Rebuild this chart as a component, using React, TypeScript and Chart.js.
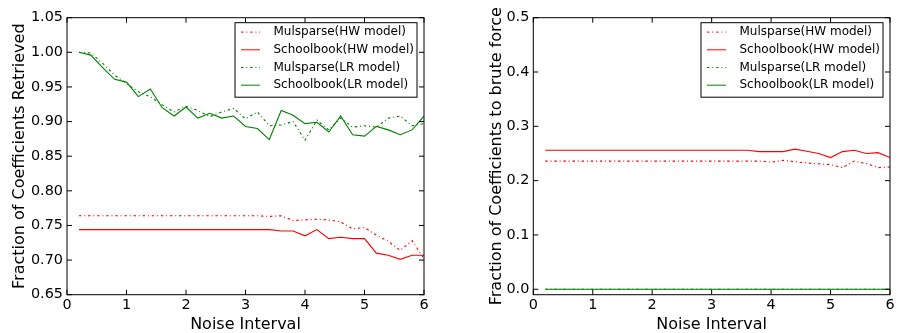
import React, { useEffect, useRef } from 'react';
import { Chart, registerables } from 'chart.js';

Chart.register(...registerables);

const FONT = "'DejaVu Sans', 'Liberation Sans', sans-serif";

const NOISE = [0.2, 0.4, 0.6, 0.8, 1.0, 1.2, 1.4, 1.6, 1.8, 2.0, 2.2, 2.4, 2.6, 2.8, 3.0, 3.2, 3.4, 3.6, 3.8, 4.0, 4.2, 4.4, 4.6, 4.8, 5.0, 5.2, 5.4, 5.6, 5.8, 6.0];

const SERIES_LABELS = ['Mulsparse(HW model)', 'Schoolbook(HW model)', 'Mulsparse(LR model)', 'Schoolbook(LR model)'];
const SERIES_COLORS = ['#ff0000', '#ff0000', '#008000', '#008000'];
const SERIES_DASHED = [true, false, true, false];

// Left panel: Fraction of Coefficients Retrieved
const LEFT_MULSPARSE_HW = [0.764, 0.764, 0.764, 0.764, 0.764, 0.764, 0.764, 0.764, 0.764, 0.764, 0.764, 0.764, 0.764, 0.764, 0.764, 0.764, 0.763, 0.764, 0.757, 0.758, 0.759, 0.758, 0.755, 0.745, 0.747, 0.736, 0.727, 0.714, 0.728, 0.702];
const LEFT_SCHOOLBOOK_HW = [0.744, 0.744, 0.744, 0.744, 0.744, 0.744, 0.744, 0.744, 0.744, 0.744, 0.744, 0.744, 0.744, 0.744, 0.744, 0.744, 0.744, 0.742, 0.742, 0.735, 0.744, 0.731, 0.733, 0.731, 0.731, 0.710, 0.707, 0.701, 0.707, 0.707];
const LEFT_MULSPARSE_LR = [1.000, 0.999, 0.984, 0.967, 0.955, 0.943, 0.936, 0.924, 0.914, 0.922, 0.916, 0.907, 0.914, 0.919, 0.904, 0.914, 0.894, 0.895, 0.900, 0.873, 0.902, 0.888, 0.905, 0.892, 0.894, 0.892, 0.905, 0.908, 0.894, 0.897];
const LEFT_SCHOOLBOOK_LR = [1.000, 0.996, 0.978, 0.961, 0.957, 0.936, 0.947, 0.920, 0.908, 0.921, 0.905, 0.912, 0.905, 0.908, 0.893, 0.890, 0.874, 0.916, 0.909, 0.897, 0.899, 0.885, 0.908, 0.881, 0.879, 0.893, 0.888, 0.881, 0.888, 0.908];

// Right panel: Fraction of Coefficients to brute force
const RIGHT_MULSPARSE_HW = [0.236, 0.236, 0.236, 0.236, 0.236, 0.236, 0.236, 0.236, 0.236, 0.236, 0.236, 0.236, 0.236, 0.236, 0.236, 0.236, 0.236, 0.236, 0.236, 0.234, 0.2375, 0.235, 0.2325, 0.231, 0.2295, 0.224, 0.236, 0.2315, 0.224, 0.225];
const RIGHT_SCHOOLBOOK_HW = [0.256, 0.256, 0.256, 0.256, 0.256, 0.256, 0.256, 0.256, 0.256, 0.256, 0.256, 0.256, 0.256, 0.256, 0.256, 0.256, 0.256, 0.256, 0.2535, 0.2535, 0.2535, 0.258, 0.254, 0.250, 0.2425, 0.2535, 0.256, 0.250, 0.2515, 0.2425];
const RIGHT_MULSPARSE_LR = [0, 0, 0, 0, 0, 0, 0, 0, 0, 0, 0, 0, 0, 0, 0, 0, 0, 0, 0, 0, 0, 0, 0, 0, 0, 0, 0, 0, 0, 0];
const RIGHT_SCHOOLBOOK_LR = [0, 0, 0, 0, 0, 0, 0, 0, 0, 0, 0, 0, 0, 0, 0, 0, 0, 0, 0, 0, 0, 0, 0, 0, 0, 0, 0, 0, 0, 0];

const X_TICKS = [0, 1, 2, 3, 4, 5, 6];
const LEFT_Y_TICKS = [0.65, 0.70, 0.75, 0.80, 0.85, 0.90, 0.95, 1.00, 1.05];
const RIGHT_Y_TICKS = [0.0, 0.1, 0.2, 0.3, 0.4, 0.5];

const DASH = [2.5, 2.8, 1, 2.8];
const TICK_LEN = 5;

const frameLegendPlugin = {
  id: 'frameLegend',
  afterDatasetsDraw(chart: any) {
    const { ctx, chartArea: a } = chart;
    const xs = chart.scales.x;
    const ys = chart.scales.y;
    ctx.save();
    ctx.strokeStyle = '#000';
    ctx.lineWidth = 1;
    ctx.setLineDash([]);
    ctx.beginPath();
    for (const t of xs.ticks) {
      const p = xs.getPixelForValue(t.value);
      ctx.moveTo(p, a.bottom);
      ctx.lineTo(p, a.bottom - TICK_LEN);
      ctx.moveTo(p, a.top);
      ctx.lineTo(p, a.top + TICK_LEN);
    }
    for (const t of ys.ticks) {
      const p = ys.getPixelForValue(t.value);
      ctx.moveTo(a.left, p);
      ctx.lineTo(a.left + TICK_LEN, p);
      ctx.moveTo(a.right, p);
      ctx.lineTo(a.right - TICK_LEN, p);
    }
    ctx.stroke();
    ctx.strokeRect(a.left, a.top, a.right - a.left, a.bottom - a.top);

    // legend box
    const bw = 182;
    const bh = 74.5;
    const bx = a.right - 7 - bw;
    const by = a.top + 5;
    ctx.fillStyle = '#fff';
    ctx.fillRect(bx, by, bw, bh);
    ctx.strokeStyle = '#000';
    ctx.strokeRect(bx, by, bw, bh);
    ctx.font = `12px ${FONT}`;
    ctx.textBaseline = 'middle';
    ctx.textAlign = 'left';
    chart.data.datasets.forEach((ds: any, i: number) => {
      const cy = by + 9.4 + i * 17.7;
      ctx.strokeStyle = ds.borderColor;
      ctx.lineWidth = 1;
      ctx.setLineDash(ds.borderDash || []);
      ctx.beginPath();
      ctx.moveTo(bx + 6, cy);
      ctx.lineTo(bx + 25, cy);
      ctx.stroke();
      ctx.setLineDash([]);
      ctx.fillStyle = '#000';
      ctx.fillText(ds.label, bx + 38.5, cy);
    });
    ctx.restore();
  },
};

type PanelSpec = {
  series: number[][];
  yMin: number;
  yMax: number;
  yTicks: number[];
  yDecimals: number;
  yTitle: string;
  yAxisWidth: number;
  yTitlePad: number;
  padRight: number;
  width: number;
};

const LEFT_SPEC: PanelSpec = {
  series: [LEFT_MULSPARSE_HW, LEFT_SCHOOLBOOK_HW, LEFT_MULSPARSE_LR, LEFT_SCHOOLBOOK_LR],
  yMin: 0.65,
  yMax: 1.05,
  yTicks: LEFT_Y_TICKS,
  yDecimals: 2,
  yTitle: 'Fraction of Coefficients Retrieved',
  yAxisWidth: 67,
  yTitlePad: 10,
  padRight: 26,
  width: 450,
};

const RIGHT_SPEC: PanelSpec = {
  series: [RIGHT_MULSPARSE_HW, RIGHT_SCHOOLBOOK_HW, RIGHT_MULSPARSE_LR, RIGHT_SCHOOLBOOK_LR],
  yMin: -0.01,
  yMax: 0.5,
  yTicks: RIGHT_Y_TICKS,
  yDecimals: 1,
  yTitle: 'Fraction of Coefficients to brute force',
  yAxisWidth: 83.3,
  yTitlePad: 37,
  padRight: 7,
  width: 447,
};

function Panel({ spec, left }: { spec: PanelSpec; left: number }) {
  const ref = useRef<HTMLCanvasElement>(null);
  useEffect(() => {
    if (!ref.current) return;
    const chart = new Chart(ref.current, {
      type: 'line',
      data: {
        datasets: spec.series.map((vals, i) => ({
          label: SERIES_LABELS[i],
          data: NOISE.map((x, j) => ({ x, y: vals[j] })),
          borderColor: SERIES_COLORS[i],
          backgroundColor: SERIES_COLORS[i],
          borderDash: SERIES_DASHED[i] ? DASH : [],
          borderWidth: 1.1,
          pointRadius: 0,
          pointHoverRadius: 0,
          fill: false,
          tension: 0,
          order: 3 - i,
        })),
      },
      options: {
        animation: false,
        responsive: false,
        layout: { padding: { left: 0, top: 17.7, right: spec.padRight, bottom: 0 } },
        plugins: { legend: { display: false }, tooltip: { enabled: false } },
        scales: {
          x: {
            type: 'linear',
            min: 0,
            max: 6,
            grid: { display: false, drawTicks: false },
            border: { display: false },
            ticks: {
              padding: 2,
              maxRotation: 0,
              autoSkip: false,
              color: '#000',
              font: { family: FONT, size: 14.4 },
              callback: (v: any) => String(v),
            },
            afterBuildTicks: (s: any) => {
              s.ticks = X_TICKS.map((v) => ({ value: v }));
            },
            afterFit: (s: any) => {
              s.height = 38.3;
            },
            title: {
              display: true,
              text: 'Noise Interval',
              color: '#000',
              font: { family: FONT, size: 16 },
              padding: { top: 0, bottom: -1 },
            },
          },
          y: {
            type: 'linear',
            min: spec.yMin,
            max: spec.yMax,
            grid: { display: false, drawTicks: false },
            border: { display: false },
            ticks: {
              padding: 4,
              autoSkip: false,
              color: '#000',
              font: { family: FONT, size: 14.4 },
              callback: (v: any) => Number(v).toFixed(spec.yDecimals),
            },
            afterBuildTicks: (s: any) => {
              s.ticks = spec.yTicks.map((v) => ({ value: v }));
            },
            afterFit: (s: any) => {
              s.width = spec.yAxisWidth;
            },
            title: {
              display: true,
              text: spec.yTitle,
              color: '#000',
              font: { family: FONT, size: 16 },
              padding: { top: spec.yTitlePad, bottom: 0 },
            },
          },
        },
      } as any,
      plugins: [frameLegendPlugin],
    });
    return () => chart.destroy();
  }, [spec]);
  return (
    <canvas
      ref={ref}
      width={spec.width}
      height={333}
      style={{ position: 'absolute', left, top: 0, width: spec.width, height: 333 }}
    />
  );
}

export default function App() {
  return (
    <div
      style={{
        position: 'fixed',
        left: 0,
        top: 0,
        width: 897,
        height: 333,
        background: '#fff',
        overflow: 'hidden',
      }}
    >
      <Panel spec={LEFT_SPEC} left={0} />
      <Panel spec={RIGHT_SPEC} left={450} />
    </div>
  );
}
